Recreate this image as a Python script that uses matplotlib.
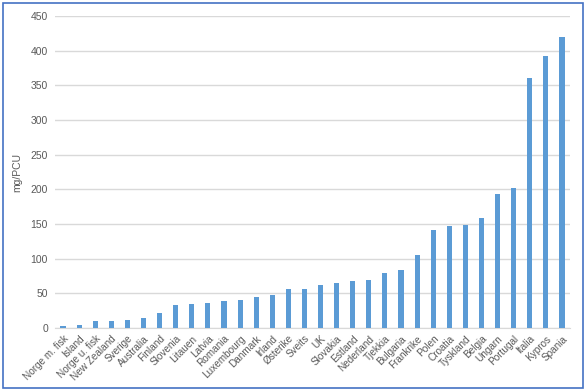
import matplotlib
matplotlib.use("Agg")
import matplotlib.pyplot as plt
from matplotlib.patches import Rectangle

countries = ["Norge m. fisk", "Island", "Norge u. fisk", "New Zealand", "Sverige",
             "Australia", "Finland", "Slovenia", "Litauen", "Latvia", "Romania",
             "Luxembourg", "Danmark", "Irland", "Østerike", "Sveits", "UK",
             "Slovakia", "Estland", "Nederland", "Tjekkia", "Bulgaria", "Frankrike",
             "Polen", "Croatia", "Tyskland", "Belgia", "Ungarn", "Portugal",
             "Italia", "Kypros", "Spania"]
values = [3, 5, 10, 10, 11, 15, 22, 33, 35, 36, 39, 41, 44, 48, 56, 56, 62,
          65, 68, 69, 79, 83, 106, 141, 147, 149, 158, 193, 202, 360, 392, 419]
yticks = [0, 50, 100, 150, 200, 250, 300, 350, 400, 450]

plt.rcParams['font.family'] = ['Liberation Sans', 'DejaVu Sans']

W, H = 586, 391
fig = plt.figure(figsize=(W/100, H/100), dpi=100)
ax = fig.add_axes([55/W, 1-328/H, (570-55)/W, (328-16)/H])

x = list(range(len(countries)))
ax.bar(x, values, width=0.32, color="#5B9BD5", zorder=3)
ax.set_xlim(-0.5, len(countries)-0.5)
ax.set_ylim(0, 450)
ax.set_yticks(yticks)
ax.set_yticklabels([str(v) for v in yticks], fontsize=7.5, color="#595959")
ax.set_xticks(x)
ax.set_xticklabels(countries, rotation=45, ha='right', rotation_mode='anchor',
                   fontsize=7.2, color="#595959")
ax.tick_params(axis='both', length=0, pad=5)
ax.tick_params(axis='x', pad=4)
ax.grid(axis='y', color="#D9D9D9", linewidth=1, zorder=0)
for s in ['top', 'right', 'left']:
    ax.spines[s].set_visible(False)
ax.spines['bottom'].set_color("#D9D9D9")
ax.set_ylabel("mg/PCU", fontsize=7.5, color="#595959", labelpad=6)

fig.patches.append(Rectangle((3/W, 3/H), (583-3)/W, (388-3)/H, transform=fig.transFigure,
                             fill=False, edgecolor="#4472C4", linewidth=1.2))

fig.savefig("out.png", dpi=100)
